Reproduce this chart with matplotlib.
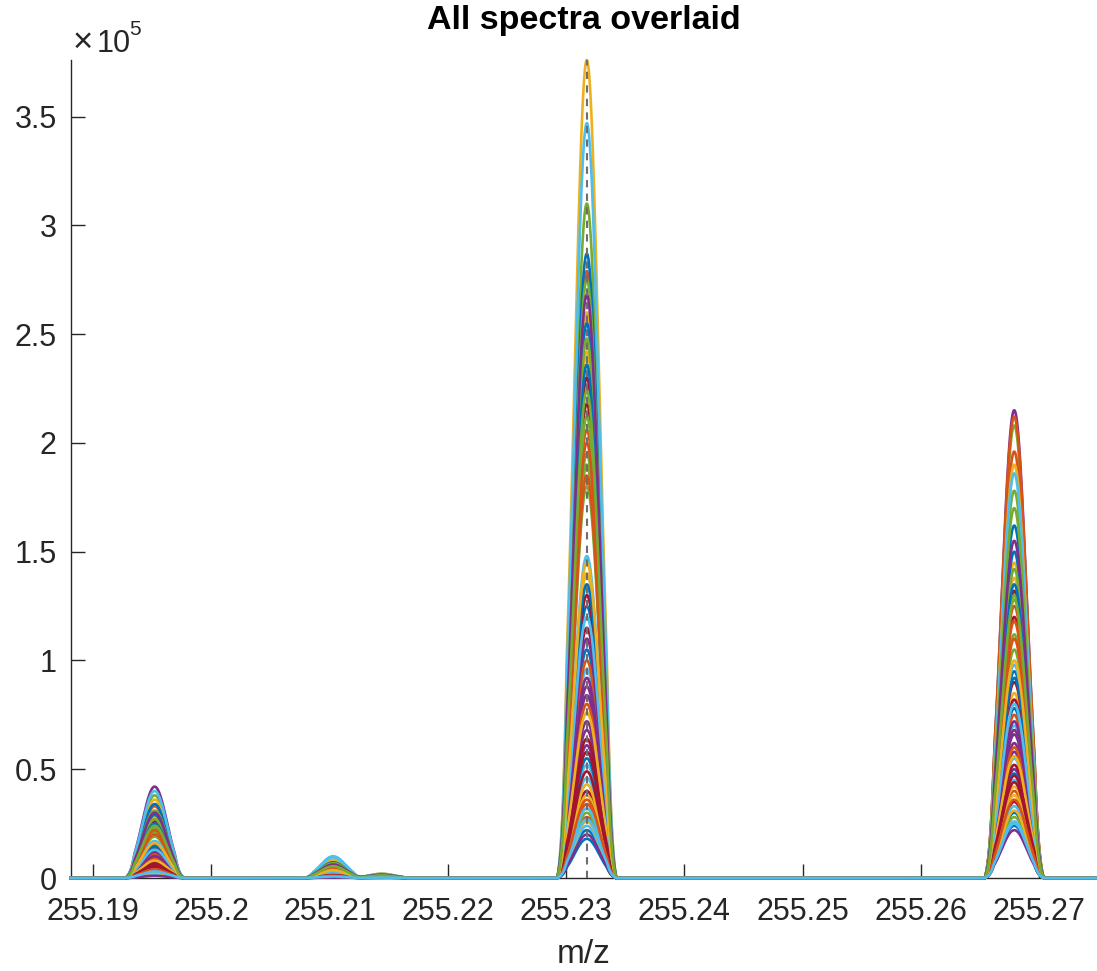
import numpy as np
import matplotlib
matplotlib.use("Agg")
import matplotlib.pyplot as plt
from matplotlib.ticker import FixedLocator

plt.rcParams['font.family'] = ['Liberation Sans', 'DejaVu Sans']

# ---- data (intensities in units of 1e5) ----
peak_centers = [255.1952, 255.2103, 255.2144, 255.23175, 255.2679]
peak_sigma = 0.00105
peak_window = (0.0017, 0.0025)   # profile tapers to zero between these offsets

h_255_1952 = [0.14, 0.04, 0.28, 0.10, 0.20, 0.05, 0.24, 0.02, 0.33, 0.16,
              0.42, 0.38, 0.11, 0.04, 0.12, 0.03, 0.27, 0.08, 0.19, 0.05,
              0.13, 0.015, 0.22, 0.36, 0.09, 0.03, 0.17, 0.26, 0.06, 0.11,
              0.04, 0.07, 0.21, 0.02, 0.15, 0.29, 0.09, 0.05, 0.12, 0.23,
              0.03, 0.07, 0.34, 0.20, 0.025, 0.10, 0.27, 0.40, 0.05, 0.15,
              0.22, 0.08, 0.01, 0.31, 0.13, 0.06, 0.25, 0.04, 0.16, 0.30,
              0.24, 0.03]
h_255_2103 = [0.03, 0.01, 0.06, 0.02, 0.04, 0.10, 0.05, 0.005, 0.07, 0.03,
              0.02, 0.08, 0.025, 0.01, 0.03, 0.008, 0.055, 0.02, 0.045, 0.012,
              0.028, 0.004, 0.05, 0.085, 0.022, 0.007, 0.035, 0.06, 0.015, 0.026,
              0.01, 0.018, 0.048, 0.006, 0.032, 0.065, 0.02, 0.012, 0.028, 0.052,
              0.008, 0.016, 0.072, 0.044, 0.006, 0.024, 0.058, 0.095, 0.012, 0.034,
              0.05, 0.019, 0.003, 0.068, 0.03, 0.014, 0.056, 0.01, 0.036, 0.062,
              0.054, 0.007]
h_255_2144 = [0.008, 0.003, 0.015, 0.006, 0.010, 0.004, 0.012, 0.002, 0.018, 0.009,
              0.005, 0.017, 0.006, 0.003, 0.007, 0.002, 0.014, 0.005, 0.011, 0.003,
              0.008, 0.001, 0.012, 0.020, 0.006, 0.002, 0.009, 0.013, 0.004, 0.007,
              0.003, 0.005, 0.011, 0.002, 0.009, 0.015, 0.005, 0.003, 0.007, 0.012,
              0.002, 0.004, 0.016, 0.010, 0.002, 0.006, 0.014, 0.019, 0.004, 0.008,
              0.011, 0.005, 0.001, 0.016, 0.008, 0.004, 0.013, 0.003, 0.009, 0.015,
              0.012, 0.002]
h_255_2318 = [1.25, 0.34, 2.60, 0.88, 1.90, 0.52, 2.18, 0.22, 2.79, 1.40,
              0.61, 3.10, 0.96, 0.40, 1.05, 0.28, 2.42, 0.72, 1.80, 0.46,
              1.15, 0.18, 2.06, 3.76, 0.84, 0.30, 1.48, 2.30, 0.55, 1.00,
              0.38, 0.68, 1.95, 0.24, 1.30, 2.55, 0.80, 0.43, 1.10, 2.12,
              0.32, 0.64, 2.87, 1.85, 0.26, 0.92, 2.48, 3.47, 0.49, 1.35,
              2.00, 0.76, 0.20, 2.75, 1.20, 0.58, 2.36, 0.36, 1.45, 2.68,
              2.24, 0.27]
h_255_2679 = [0.95, 0.40, 1.45, 2.15, 2.08, 0.55, 1.20, 0.30, 2.12, 0.85,
              0.62, 1.78, 0.70, 0.35, 0.78, 1.96, 1.38, 0.50, 1.05, 0.45,
              0.82, 0.24, 1.25, 1.90, 0.66, 0.28, 0.98, 1.32, 0.48, 0.75,
              0.38, 0.58, 1.12, 0.26, 0.90, 1.50, 0.60, 0.42, 0.72, 1.30,
              0.33, 0.52, 1.62, 1.10, 0.31, 0.68, 1.42, 1.86, 0.44, 0.92,
              1.18, 0.56, 0.22, 1.70, 0.80, 0.47, 1.35, 0.36, 1.00, 1.55,
              1.28, 0.25]

x_range = (255.1881, 255.2749)
x_ticks = [255.19, 255.20, 255.21, 255.22, 255.23, 255.24, 255.25, 255.26, 255.27]
x_tick_labels = ['255.19', '255.2', '255.21', '255.22', '255.23', '255.24', '255.25', '255.26', '255.27']
y_ticks = [0, 0.5, 1, 1.5, 2, 2.5, 3, 3.5]
y_tick_labels = ['0', '0.5', '1', '1.5', '2', '2.5', '3', '3.5']
scale = 1e5
ref_mz = 255.23175

colors = ['#0072BD', '#D95319', '#EDB120', '#7E2F8E', '#77AC30', '#4DBEEE', '#A2142F']

# ---- figure ----
W, H = 1097, 971
fig = plt.figure(figsize=(W / 100, H / 100), dpi=100)
ax = fig.add_axes([70.7 / W, 1 - 878 / H, 1 - 70.7 / W, (878 - 60) / H])

mz = np.linspace(x_range[0], x_range[1], 5000)
heights = list(zip(h_255_1952, h_255_2103, h_255_2144, h_255_2318, h_255_2679))
w0, w1 = peak_window
for i, hs in enumerate(heights):
    y = np.zeros_like(mz)
    for c, h in zip(peak_centers, hs):
        d = np.abs(mz - c)
        taper = np.clip((w1 - d) / (w1 - w0), 0, 1)
        y += h * scale * np.exp(-0.5 * (d / peak_sigma) ** 2) * taper
    ax.plot(mz, y, color=colors[i % 7], lw=1.9, zorder=2, clip_on=False)

ymax = max(h_255_2318) * scale
ax.plot([ref_mz, ref_mz], [0, ymax], color='#6e6e6e', lw=1.5, ls=(0, (3.5, 3)), zorder=3)

ax.set_xlim(*x_range)
ax.set_ylim(0, ymax)

ax.xaxis.set_major_locator(FixedLocator(x_ticks))
ax.set_xticklabels(x_tick_labels)
ax.yaxis.set_major_locator(FixedLocator([v * scale for v in y_ticks]))
ax.set_yticklabels(y_tick_labels)

for s in ['top', 'right']:
    ax.spines[s].set_visible(False)
for s in ['left', 'bottom']:
    ax.spines[s].set_color('#262626')
    ax.spines[s].set_linewidth(1.0)
    ax.spines[s].set_zorder(1)

ax.tick_params(axis='both', direction='in', length=10, width=1.0, color='#262626',
               labelsize=22, labelcolor='#262626')
ax.tick_params(axis='x', pad=14)
ax.tick_params(axis='y', pad=10)

ax.set_xlabel('m/z', fontsize=24, color='#262626', labelpad=8)
fig.text(584 / W, 1 - 29 / H, 'All spectra overlaid', ha='center', va='baseline',
         fontsize=24.5, fontweight='bold', color='black')
fig.text(73 / W, 1 - 52 / H, '\u00d7', ha='left', va='baseline',
         fontsize=25, color='#262626')
fig.text(97 / W, 1 - 52 / H, '10', ha='left', va='baseline',
         fontsize=22, color='#262626')
fig.text(129 / W, 1 - 35 / H, '5', ha='left', va='baseline',
         fontsize=15, color='#262626')

fig.savefig('out.png', dpi=100)
